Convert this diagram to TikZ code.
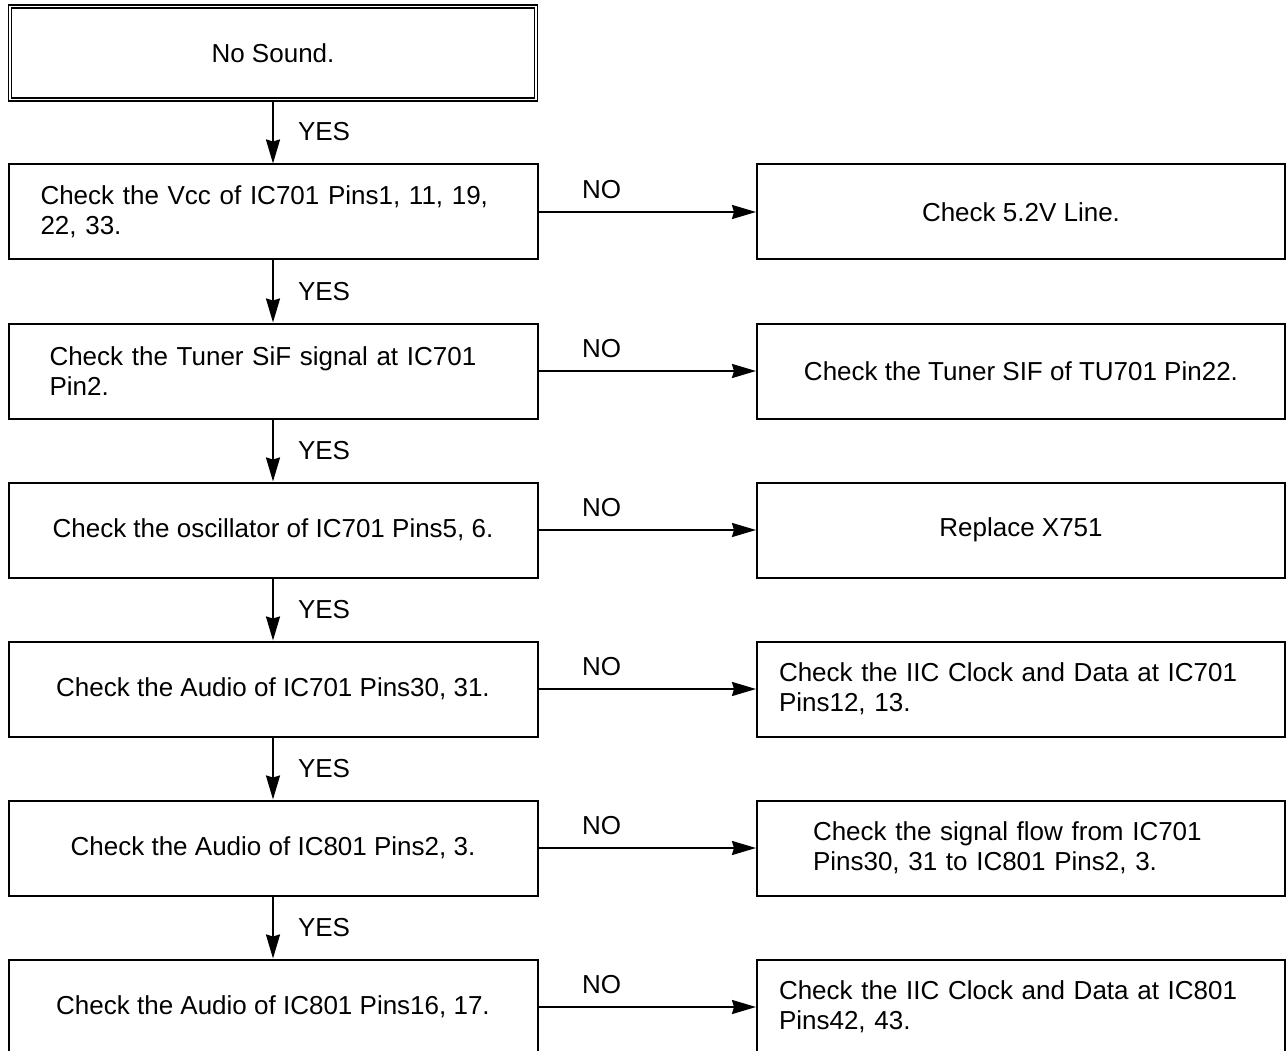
\documentclass[tikz,border=0pt]{standalone}
\usepackage{fontspec}
\setmainfont{Liberation Sans}
\usetikzlibrary{arrows.meta}
\begin{document}
\begin{tikzpicture}[x=1pt,y=-1pt,
  box/.style={draw, line width=2pt, minimum width=529pt, minimum height=95pt,
    inner xsep=0pt, inner ysep=0pt, font=\fontsize{26}{30}\selectfont},
  rbox/.style={box, minimum width=528pt},
  padl/.style n args={2}{align=left, inner xsep=#1, text width=#2},
  arr/.style={line width=2pt, -{Stealth[length=24pt,width=14pt,inset=2pt]}},
  lbl/.style={inner sep=0pt, font=\fontsize{26}{30}\selectfont}]
\useasboundingbox (0,0) rectangle (1286,1051);
\clip (0,0) rectangle (1286,1051);
\fill[white] (0,0) rectangle (1286,1051);

\node[box, double, double distance=1.5pt, line width=1.3pt, minimum width=526pt, minimum height=93pt] (n0) at (273,53) {No Sound.};

\node[box, padl={32pt}{465pt}] (l1) at (273,212) {Check the Vcc of IC701 Pins1, 11, 19,\\22, 33.};
\node[box, padl={41pt}{447pt}] (l2) at (273,371) {Check the Tuner SiF signal at IC701\\Pin2.};
\node[box] (l3) at (273,530) {Check the oscillator of IC701 Pins5, 6.};
\node[box] (l4) at (273,689) {Check the Audio of IC701 Pins30, 31.};
\node[box] (l5) at (273,848) {Check the Audio of IC801 Pins2, 3.};
\node[box] (l6) at (273,1007) {Check the Audio of IC801 Pins16, 17.};

\node[rbox] (r1) at (1021,212) {Check 5.2V Line.};
\node[rbox] (r2) at (1021,371) {Check the Tuner SIF of TU701 Pin22.};
\node[rbox] (r3) at (1021,530) {Replace X751};
\node[rbox, padl={22pt}{484pt}] (r4) at (1021,689) {Check the IIC Clock and Data at IC701\\Pins12, 13.};
\node[rbox, padl={56pt}{416pt}] (r5) at (1021,848) {Check the signal flow from IC701\\Pins30, 31 to IC801 Pins2, 3.};
\node[rbox, padl={22pt}{484pt}] (r6) at (1021,1007) {Check the IIC Clock and Data at IC801\\Pins42, 43.};

\draw[arr] (n0.south) -- (l1.north) node[lbl, midway, right=24pt] {YES};
\draw[arr] (l1.south) -- (l2.north) node[lbl, midway, right=24pt] {YES};
\draw[arr] (l2.south) -- (l3.north) node[lbl, midway, right=24pt] {YES};
\draw[arr] (l3.south) -- (l4.north) node[lbl, midway, right=24pt] {YES};
\draw[arr] (l4.south) -- (l5.north) node[lbl, midway, right=24pt] {YES};
\draw[arr] (l5.south) -- (l6.north) node[lbl, midway, right=24pt] {YES};

\draw[arr] (l1.east) -- (r1.west) node[lbl, pos=0.29, above=12pt] {NO};
\draw[arr] (l2.east) -- (r2.west) node[lbl, pos=0.29, above=12pt] {NO};
\draw[arr] (l3.east) -- (r3.west) node[lbl, pos=0.29, above=12pt] {NO};
\draw[arr] (l4.east) -- (r4.west) node[lbl, pos=0.29, above=12pt] {NO};
\draw[arr] (l5.east) -- (r5.west) node[lbl, pos=0.29, above=12pt] {NO};
\draw[arr] (l6.east) -- (r6.west) node[lbl, pos=0.29, above=12pt] {NO};
\end{tikzpicture}
\end{document}
